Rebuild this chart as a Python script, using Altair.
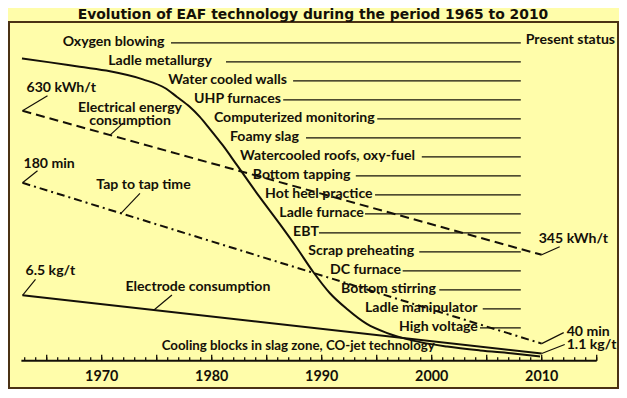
import altair as alt
import numpy as np
import pandas as pd

# ---------------- data ----------------
TITLE = "Evolution of EAF technology during the period 1965 to 2010"

tech_labels = [
    "Oxygen blowing", "Ladle metallurgy", "Water cooled walls", "UHP furnaces",
    "Computerized monitoring", "Foamy slag", "Watercooled roofs, oxy-fuel",
    "Bottom tapping", "Hot heel practice", "Ladle furnace", "EBT",
    "Scrap preheating", "DC furnace", "Bottom stirring", "Ladle manipulator",
    "High voltage", "Cooling blocks in slag zone, CO-jet technology",
]
tech_years = [1966.45, 1970.6, 1976.05, 1978.4, 1980.2, 1981.66, 1982.57,
              1983.73, 1984.85, 1986.15, 1987.4, 1988.78, 1990.75, 1991.75,
              1993.94, 1997.03, 1975.45]
tech_line_start = [1976.3, 1981.3, 1987.4, 1986.5, 1995.05, 1988.57, 1999.1,
                   1993.1, 1994.85, 1993.94, 1989.75, 1998.87, 1997.36,
                   2000.69, 2004.64, 2004.39]
tech_line_end = 2008.1
present_status_year = 2016.67

span_years = [1962.8, 2010.0]
energy_kwh = [630, 345]
tap_min = [180, 40]
electrode_kg = [6.5, 1.1]

scurve_years = [1962.75, 1965.3, 1968.0, 1970.75, 1973.75, 1975.75, 1976.85,
                1978.0, 1978.9, 1979.8, 1981.0, 1982.3, 1984.4, 1986.2,
                1987.75, 1989.2, 1990.75, 1992.3, 1994.1, 1995.9, 1998.3,
                2001.4, 2004.4, 2007.4, 2009.85]
scurve_level = [100, 98.7, 97.2, 95.7, 93.0, 90.1, 87.1, 83.8, 80.5, 76.5,
                70.9, 64.2, 53.3, 44.4, 36.4, 28.5, 21.2, 15.9, 10.9, 7.9,
                5.3, 3.3, 2.0, 1.0, 0]

axis_range = [1962.7, 2015]
minor_years = list(range(1963, 2016))
major_years = list(range(1965, 2016, 5))
label_years = [1970, 1980, 1990, 2000, 2010]

# ---------------- style ----------------
BG = "#FFFDAA"
INK = "#141008"
FRAME = "#4b3214"
FONT = "Lato"
FS = 14.1
W, H = 609, 366
K = H / 371.0  # vertical layout factor

X = alt.X("year:Q", scale=alt.Scale(domain=[1961.573, 1961.573 + W / 11.0], nice=False, zero=False), axis=None)


def qy(field, dom):
    return alt.Y(f"{field}:Q", scale=alt.Scale(domain=dom, nice=False, zero=False), axis=None)


def txt(**kw):
    base = dict(font=FONT, fontSize=FS, fontWeight="bold", color=INK, baseline="middle")
    base.update(kw)
    return base


layers = []

# title (drawn just above the frame)
layers.append(
    alt.Chart(pd.DataFrame({"t": [TITLE]})).mark_text(
        **txt(font="DejaVu Sans", fontSize=13.9, baseline="alphabetic"))
    .encode(x=alt.value(304), y=alt.value(-3.5), text="t:N")
)

# technology rows
ROW = alt.Y("label:N", scale=alt.Scale(type="point", domain=tech_labels,
                                       range=[21.2 * K, 329.3 * K], padding=0), axis=None)
n_lines = len(tech_line_start)
tech_df = pd.DataFrame({"label": tech_labels, "year": tech_years})
line_df = pd.DataFrame({"label": tech_labels[:n_lines], "year": tech_line_start,
                        "year_end": [tech_line_end] * n_lines})
layers.append(alt.Chart(line_df).mark_rule(color=INK, strokeWidth=1.3).encode(x=X, x2="year_end:Q", y=ROW))
layers.append(alt.Chart(tech_df.iloc[:n_lines]).mark_text(**txt(align="left", dy=-1))
              .encode(x=X, y=ROW, text="label:N"))
layers.append(alt.Chart(tech_df.iloc[n_lines:]).mark_text(**txt(align="left", dy=-1, fontSize=13.3))
              .encode(x=X, y=ROW, text="label:N"))
ps_df = pd.DataFrame({"label": [tech_labels[0]], "year": [present_status_year], "t": ["Present status"]})
layers.append(alt.Chart(ps_df).mark_text(**txt(align="right", dy=-3)).encode(x=X, y=ROW, text="t:N"))

# S-curve
s_df = pd.DataFrame({"year": scurve_years, "level": scurve_level})
layers.append(alt.Chart(s_df).mark_line(color=INK, strokeWidth=2, interpolate="monotone")
              .encode(x=X, y=qy("level", [-10.6, 112.25])))


def series(values, dom, dash, end_labels, start_lead, start_txt, end_lead, end_txt,
           mid_year, mid_label, mid_lead, mid_txt):
    df = pd.DataFrame({"year": span_years, "value": values, "label": end_labels})
    Y = qy("value", dom)
    out = []
    lk = dict(color=INK, strokeWidth=2)
    if dash:
        lk["strokeDash"] = dash
    out.append(alt.Chart(df).mark_line(**lk).encode(x=X, y=Y))
    for i, lead, tp in [(0, start_lead, start_txt), (1, end_lead, end_txt)]:
        d = df.iloc[[i]]
        out.append(alt.Chart(d).mark_rule(color=INK, strokeWidth=1.2, x2Offset=lead[0], y2Offset=lead[1])
                   .encode(x=X, x2="year:Q", y=Y, y2="value:Q"))
        out.append(alt.Chart(d).mark_text(**txt(align="left", dx=tp[0], dy=tp[1]))
                   .encode(x=X, y=Y, text="label:N"))
    mv = float(np.interp(mid_year, span_years, values))
    md = pd.DataFrame({"year": [mid_year], "value": [mv], "label": [mid_label]})
    out.append(alt.Chart(md).mark_rule(color=INK, strokeWidth=1.2, x2Offset=mid_lead[0], y2Offset=mid_lead[1])
               .encode(x=X, x2="year:Q", y=Y, y2="value:Q"))
    out.append(alt.Chart(md).mark_text(**txt(align="center", dx=mid_txt[0], dy=mid_txt[1], lineBreak="\n", lineHeight=13))
               .encode(x=X, y=Y, text="label:N"))
    return out


layers += series(energy_kwh, [81.47, 805.69], [9, 5], ["630 kWh/t", "345 kWh/t"],
                 (25, -15), (4, -23), (18, -8), (-3, -16),
                 1970.76, "Electrical energy\nconsumption", (13, -12), (20, -27))
layers += series(tap_min, [1.35, 320.0], [8, 4, 2, 4], ["180 min", "40 min"],
                 (15, -12), (1, -19), (22, -11), (25, -12),
                 1971.75, "Tap to tap time", (19, -20), (22.5, -28))
layers += series(electrode_kg, [-2.103, 31.853], None, ["6.5 kg/t", "1.1 kg/t"],
                 (13, -16), (3, -24), (23, -9), (25, -8.5),
                 1974.75, "Electrode consumption", (18, -15), (44, -23))

# x axis drawn inside the frame
AXIS_Y = 343.5 * K
ax_df = pd.DataFrame({"year": [axis_range[0]], "year_end": [axis_range[1]]})
layers.append(alt.Chart(ax_df).mark_rule(color=INK, strokeWidth=2)
              .encode(x=X, x2="year_end:Q", y=alt.value(AXIS_Y)))
layers.append(alt.Chart(pd.DataFrame({"year": minor_years})).mark_rule(color=INK, strokeWidth=1.3)
              .encode(x=X, y=alt.value(AXIS_Y), y2=alt.value(AXIS_Y - 3.6)))
layers.append(alt.Chart(pd.DataFrame({"year": major_years})).mark_rule(color=INK, strokeWidth=1.3)
              .encode(x=X, y=alt.value(AXIS_Y), y2=alt.value(AXIS_Y - 6)))
layers.append(alt.Chart(pd.DataFrame({"year": label_years})).mark_text(**txt(fontSize=14.3))
              .encode(x=X, y=alt.value(359.5 * K), text=alt.Text("year:Q", format="d")))

chart = (
    alt.layer(*layers)
    .resolve_scale(y="independent")
    .properties(
        width=W, height=H,
        background=BG,
        padding={"left": 1, "top": 14, "right": 1, "bottom": 1},
        autosize=alt.AutoSizeParams(type="none"),
    )
    .configure_view(stroke=FRAME, strokeWidth=2)
)

chart.save("out.html", embed_options={"renderer": "svg", "actions": False})
